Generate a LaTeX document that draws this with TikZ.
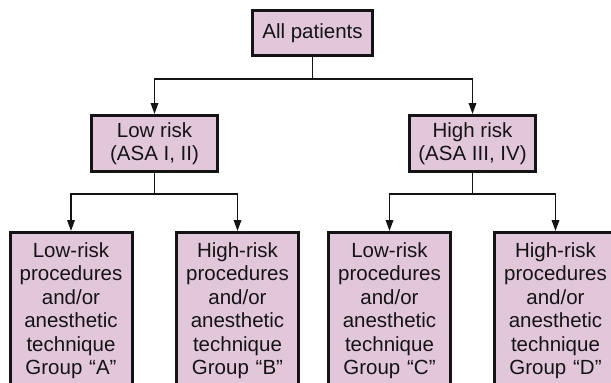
\documentclass[tikz,border=0pt]{standalone}
\usepackage{fontspec}
\setmainfont{Liberation Sans}
\usetikzlibrary{arrows.meta}
\definecolor{boxfill}{RGB}{226,199,219}
\definecolor{ink}{RGB}{20,20,20}
\tikzset{
  box/.style={draw=ink, fill=boxfill, line width=3pt, inner xsep=2pt, inner ysep=2pt,
    align=center, font=\fontsize{20.5}{23.5}\selectfont, text=ink},
  topbox/.style={box, minimum width=120pt, minimum height=45pt},
  midbox/.style={box, minimum width=126pt, minimum height=56pt},
  leafbox/.style={box, text width=118pt, inner ysep=10pt, anchor=north},
  link/.style={draw=ink, line width=1.8pt},
  arr/.style={link, -{Triangle[length=11pt,width=7.5pt]}},
}
\begin{document}
\begin{tikzpicture}[x=1pt,y=-1pt]
\useasboundingbox (0,0) rectangle (611,383);
\fill[white] (0,0) rectangle (611,383);
\node[topbox] (all) at (312.5,33) {All patients};
\node[midbox] (low) at (154.5,143.5) {Low risk\\(ASA I, II)};
\node[midbox] (high) at (472.5,143.5) {High risk\\(ASA III, IV)};
\node[leafbox] (ga) at (71,231) {Low-risk\\procedures\\and/or\\anesthetic\\technique\\Group “A”};
\node[leafbox] (gb) at (237.5,231) {High-risk\\procedures\\and/or\\anesthetic\\technique\\Group “B”};
\node[leafbox] (gc) at (389.5,231) {Low-risk\\procedures\\and/or\\anesthetic\\technique\\Group “C”};
\node[leafbox] (gd) at (555.5,231) {High-risk\\procedures\\and/or\\anesthetic\\technique\\Group “D”};
\coordinate (j0) at (312.5,79);
\coordinate (j1) at (154.5,194);
\coordinate (j2) at (472.5,194);
\draw[link] (all.south) -- (j0);
\draw[arr] (j0) -| (low.north);
\draw[arr] (j0) -| (high.north);
\draw[link] (low.south) -- (j1);
\draw[arr] (j1) -| (ga.north);
\draw[arr] (j1) -| (gb.north);
\draw[link] (high.south) -- (j2);
\draw[arr] (j2) -| (gc.north);
\draw[arr] (j2) -| (gd.north);
\end{tikzpicture}
\end{document}
